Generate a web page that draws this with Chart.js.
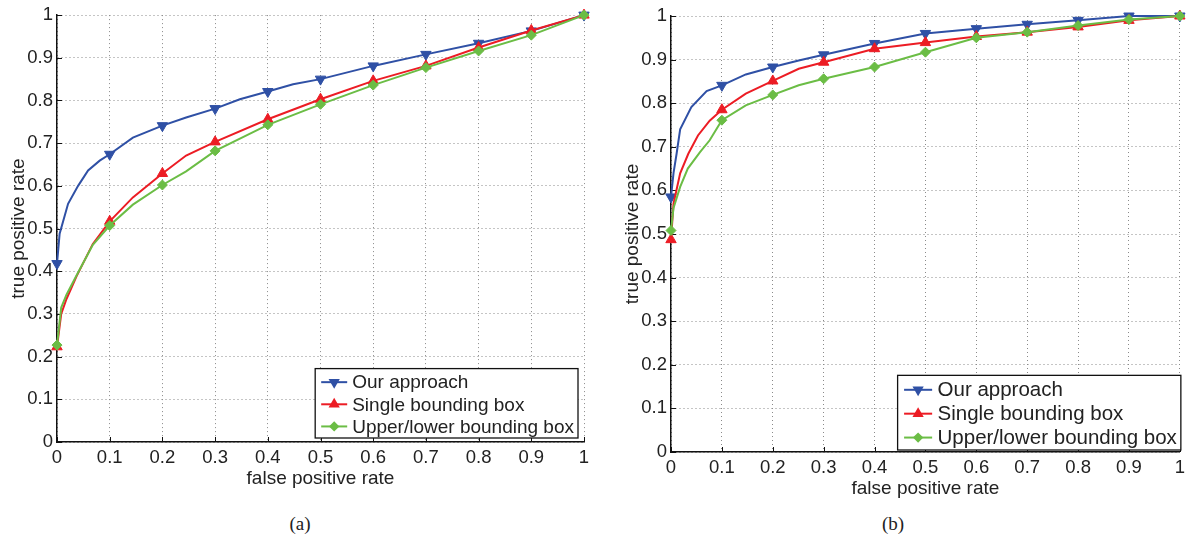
<!DOCTYPE html>
<html>
<head>
<meta charset="utf-8">
<script src="https://cdn.jsdelivr.net/npm/chart.js@4.4.0/dist/chart.umd.min.js"></script>
<style>
  html, body { margin: 0; padding: 0; background: #fff; }
  body { width: 1190px; height: 541px; position: relative; overflow: hidden; }
  canvas { position: absolute; top: 0; }
  #rocA { left: 0; }
  #rocB { left: 600px; }
  .cap { position: absolute; top: 513px; line-height: 22px; font-size: 19px; color: #222;
         font-family: 'Liberation Serif', 'Times New Roman', serif; transform: translateX(-50%); }
</style>
</head>
<body>
<canvas id="rocA" width="600" height="500"></canvas>
<canvas id="rocB" width="590" height="510"></canvas>
<div class="cap" style="left:300px">(a)</div>
<div class="cap" style="left:893px">(b)</div>
<script>
'use strict'

// Series names and axis ticks
const seriesNames = ['Our approach', 'Single bounding box', 'Upper/lower bounding box']
const tickValues = [0, 0.1, 0.2, 0.3, 0.4, 0.5, 0.6, 0.7, 0.8, 0.9, 1]
const tickLabels = ['0', '0.1', '0.2', '0.3', '0.4', '0.5', '0.6', '0.7', '0.8', '0.9', '1']

// (a) ROC curves
const aOursX = [0, 0.005, 0.021, 0.04, 0.059, 0.081, 0.1, 0.144, 0.2, 0.245, 0.3, 0.347, 0.4, 0.448, 0.5, 0.6, 0.7, 0.8, 0.9, 1]
const aOursY = [0.418, 0.488, 0.558, 0.600, 0.636, 0.659, 0.674, 0.713, 0.741, 0.760, 0.781, 0.803, 0.821, 0.838, 0.850, 0.881, 0.908, 0.934, 0.963, 1.0]
const aSingleX = [0, 0.008, 0.018, 0.037, 0.068, 0.1, 0.144, 0.2, 0.245, 0.3, 0.4, 0.5, 0.6, 0.7, 0.8, 0.9, 1]
const aSingleY = [0.223, 0.300, 0.335, 0.388, 0.464, 0.517, 0.573, 0.629, 0.671, 0.703, 0.756, 0.803, 0.846, 0.881, 0.924, 0.964, 1.0]
const aUpperX = [0, 0.008, 0.018, 0.037, 0.068, 0.1, 0.144, 0.2, 0.245, 0.3, 0.4, 0.5, 0.6, 0.7, 0.8, 0.9, 1]
const aUpperY = [0.227, 0.315, 0.345, 0.390, 0.462, 0.507, 0.556, 0.602, 0.634, 0.682, 0.743, 0.791, 0.836, 0.877, 0.916, 0.953, 1.0]

// (b) ROC curves
const bOursX = [0, 0.005, 0.011, 0.018, 0.04, 0.07, 0.1, 0.147, 0.2, 0.251, 0.3, 0.4, 0.5, 0.6, 0.7, 0.8, 0.9, 1]
const bOursY = [0.585, 0.640, 0.684, 0.740, 0.791, 0.828, 0.841, 0.866, 0.883, 0.898, 0.911, 0.937, 0.960, 0.971, 0.981, 0.990, 1.0, 1.0]
const bSingleX = [0, 0.005, 0.018, 0.034, 0.053, 0.076, 0.1, 0.147, 0.2, 0.251, 0.3, 0.4, 0.5, 0.6, 0.7, 0.8, 0.9, 1]
const bSingleY = [0.487, 0.570, 0.639, 0.684, 0.726, 0.760, 0.785, 0.822, 0.851, 0.879, 0.894, 0.925, 0.939, 0.953, 0.963, 0.975, 0.990, 1.0]
const bUpperX = [0, 0.005, 0.018, 0.033, 0.057, 0.076, 0.1, 0.147, 0.2, 0.251, 0.3, 0.4, 0.5, 0.6, 0.7, 0.8, 0.9, 1]
const bUpperY = [0.508, 0.560, 0.608, 0.650, 0.688, 0.715, 0.761, 0.795, 0.819, 0.841, 0.856, 0.883, 0.917, 0.950, 0.963, 0.978, 0.992, 1.0]

// Styles
const colors = ['#2f50a5', '#ec1c24', '#6bbd45']
const markers = [
  {pointStyle: 'triangle', rotation: 180, radius: 6},
  {pointStyle: 'triangle', rotation: 0, radius: 6},
  {pointStyle: 'rectRot', rotation: 0, radius: 5}
]
const FONT = "'Liberation Sans', Arial, Helvetica, sans-serif"

Chart.defaults.font.family = FONT
Chart.defaults.color = '#222'

function toPoints(xs, ys) {
  return xs.map((x, i) => ({x: x, y: ys[i]}))
}

// markers only sit on the 0.1 grid
function onGrid(x) {
  return Math.abs(x * 10 - Math.round(x * 10)) < 1e-9
}

// MATLAB style ticks pointing into the plot
const inwardTicks = {
  id: 'inwardTicks',
  beforeDatasetsDraw(chart) {
    const {ctx, chartArea: a, scales: {x, y}} = chart
    ctx.save()
    ctx.strokeStyle = '#111'
    ctx.lineWidth = 1
    ctx.beginPath()
    x.ticks.forEach(t => {
      const px = Math.round(x.getPixelForValue(t.value)) + 0.5
      ctx.moveTo(px, a.bottom)
      ctx.lineTo(px, a.bottom - 5)
    })
    y.ticks.forEach(t => {
      const py = Math.round(y.getPixelForValue(t.value)) + 0.5
      ctx.moveTo(a.left, py)
      ctx.lineTo(a.left + 5, py)
    })
    ctx.stroke()
    ctx.restore()
  }
}

function boxLegend(fontSize, rightGap, bottomGap) {
  return {
    id: 'boxLegend',
    afterDraw(chart) {
      const {ctx, chartArea: a} = chart
      const k = fontSize / 19
      ctx.save()
      ctx.font = fontSize + 'px ' + FONT
      const textW = Math.max(...seriesNames.map(n => ctx.measureText(n).width))
      const rowH = fontSize * 1.165
      const w = 37 * k + textW + 4
      const h = rowH * 3 + 3
      const right = a.right - rightGap
      const bottom = a.bottom - bottomGap
      const left = right - w
      const top = bottom - h
      ctx.fillStyle = '#fff'
      ctx.fillRect(left, top, w, h)
      ctx.strokeStyle = '#111'
      ctx.lineWidth = 1.3
      ctx.strokeRect(left, top, w, h)
      seriesNames.forEach((name, i) => {
        const cy = top + 2.5 + rowH * (i + 0.5)
        ctx.strokeStyle = colors[i]
        ctx.lineWidth = 2
        ctx.beginPath()
        ctx.moveTo(left + 6 * k, cy)
        ctx.lineTo(left + 32 * k, cy)
        ctx.stroke()
        ctx.fillStyle = colors[i]
        Chart.helpers.drawPoint(ctx, {
          pointStyle: markers[i].pointStyle,
          rotation: markers[i].rotation,
          radius: markers[i].radius * 0.75,
          borderWidth: 1
        }, left + 19 * k, cy)
        ctx.fillStyle = '#222'
        ctx.textBaseline = 'middle'
        ctx.textAlign = 'left'
        ctx.fillText(name, left + 37 * k, cy + 1)
      })
      ctx.restore()
    }
  }
}

function rocChart(id, xsList, ysList, cfg) {
  const datasets = seriesNames.map((name, i) => ({
    label: name,
    data: toPoints(xsList[i], ysList[i]),
    borderColor: colors[i],
    backgroundColor: colors[i],
    borderWidth: 2,
    pointStyle: markers[i].pointStyle,
    rotation: markers[i].rotation,
    pointRadius: (c) => onGrid(c.raw.x) ? markers[i].radius : 0,
    pointBorderWidth: 1,
    pointHoverRadius: 0,
    showLine: true,
    tension: 0,
    clip: false,
    order: 3 - i
  }))
  const axis = (fit) => ({
    type: 'linear',
    min: 0,
    max: 1,
    afterFit: fit,
    afterBuildTicks: (s) => { s.ticks = tickValues.map(v => ({value: v})) },
    grid: {color: '#8a8a8a', lineWidth: 1, drawTicks: false},
    border: {display: true, color: '#111', width: 1.5, dash: [1, 3]},
    ticks: {
      font: {size: 18.5},
      color: '#222',
      callback: (v, idx) => tickLabels[idx]
    }
  })
  const x = axis((s) => { s.height = cfg.xAxisHeight })
  x.ticks.padding = cfg.xTickPad
  x.ticks.maxRotation = 0
  x.title = {display: true, text: 'false positive rate', font: {size: 19}, color: '#222',
             padding: {top: 0, bottom: cfg.xTitlePad}}
  const y = axis((s) => { s.width = cfg.yAxisWidth })
  y.ticks.padding = cfg.yTickPad
  y.title = {display: true, text: 'true positive rate', font: {size: 19}, color: '#222',
             padding: {top: cfg.yTitlePad, bottom: 0}}

  return new Chart(document.getElementById(id), {
    type: 'scatter',
    data: {datasets: datasets},
    options: {
      responsive: false,
      animation: false,
      devicePixelRatio: 1,
      layout: {padding: {top: cfg.top, right: cfg.right, bottom: 0, left: 0}},
      scales: {x: x, y: y},
      plugins: {legend: {display: false}, tooltip: {enabled: false}}
    },
    plugins: [inwardTicks, boxLegend(cfg.legendFont, cfg.legendRight, cfg.legendBottom)]
  })
}

rocChart('rocA', [aOursX, aSingleX, aUpperX], [aOursY, aSingleY, aUpperY], {
  top: 14, right: 16, xAxisHeight: 58, yAxisWidth: 57,
  xTickPad: 5, xTitlePad: 10, yTickPad: 4, yTitlePad: 7,
  legendFont: 19, legendRight: 6, legendBottom: 4
})

rocChart('rocB', [bOursX, bSingleX, bUpperX], [bOursY, bSingleY, bUpperY], {
  top: 16, right: 6, xAxisHeight: 58, yAxisWidth: 71,
  xTickPad: 5, xTitlePad: 10, yTickPad: 4, yTitlePad: 21,
  legendFont: 20.5, legendRight: -1, legendBottom: 2
})
</script>
</body>
</html>
